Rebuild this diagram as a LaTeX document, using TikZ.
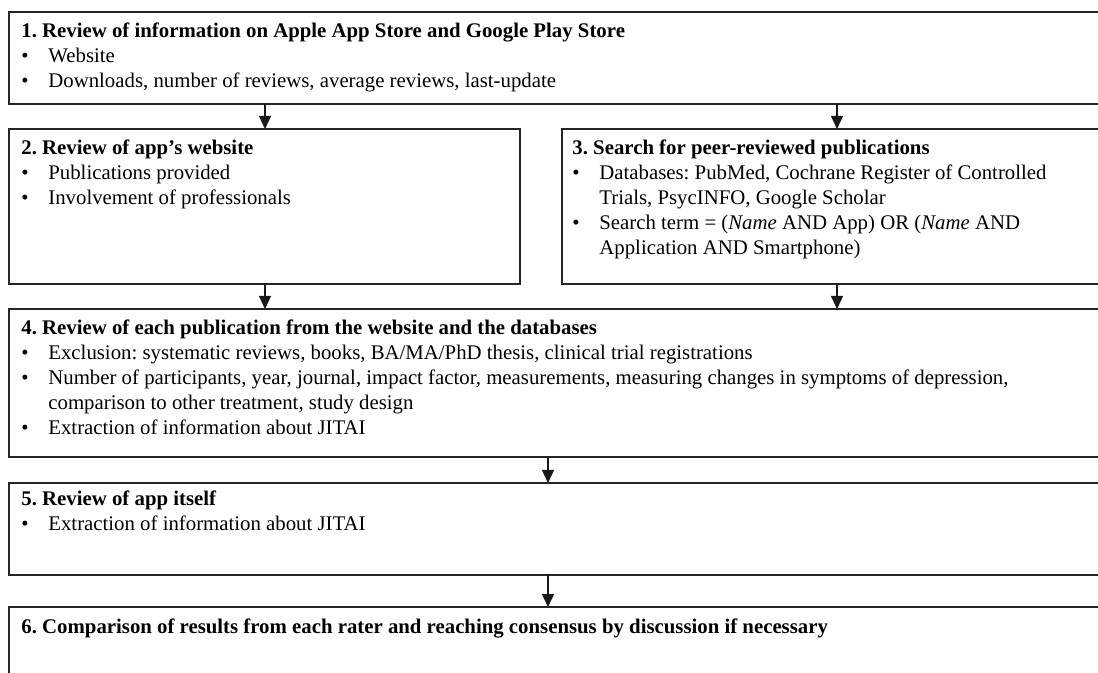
\documentclass[tikz,border=0pt]{standalone}
\usepackage{fontspec}
\setmainfont{Liberation Serif}
\usetikzlibrary{calc,arrows.meta}

% one bulleted line, and a wrapped continuation line
\newcommand{\bitem}[1]{\par\noindent\hbox to 13.5pt{\textbullet\hfil}#1}
\newcommand{\bcont}[1]{\par\noindent\hspace*{13.5pt}#1}
\newcommand{\boxtext}[2]{\parbox[t]{#1}{\fontsize{10.4pt}{12.5pt}\selectfont
  \frenchspacing\setlength{\parindent}{0pt}\setlength{\parskip}{0pt}#2}}

\begin{document}
\begin{tikzpicture}[x=0.5pt,y=-0.5pt,
  stagebox/.style={draw=black!85,line width=0.7pt,rectangle,inner sep=0pt,
    outer sep=0pt,anchor=north west},
  txt/.style={inner sep=0pt,anchor=base west,text=black},
  arr/.style={draw=black!90,line width=0.6pt,-{Triangle[width=6pt,length=6.5pt]}}]

\clip (0,0) rectangle (1098,673);
\fill[white] (0,0) rectangle (1098,673);

% stage frames
\node[stagebox,minimum width=555.5pt,minimum height=46pt] (b1) at (9,12) {};
\node[stagebox,minimum width=255.5pt,minimum height=77.5pt] (b2) at (9,129) {};
\node[stagebox,minimum width=279pt,minimum height=77.5pt] (b3) at (562,129) {};
\node[stagebox,minimum width=555.5pt,minimum height=74pt] (b4) at (9,309) {};
\node[stagebox,minimum width=555.5pt,minimum height=46pt] (b5) at (9,483) {};
\node[stagebox,minimum width=555.5pt,minimum height=46.5pt] (b6) at (9,607) {};

% stage texts
\node[txt] (t1) at ($(b1.north west)+(12,26)$) {\boxtext{540pt}{%
  \textbf{1. Review of information on Apple App Store and Google Play Store}
  \bitem{Website}
  \bitem{Downloads, number of reviews, average reviews, last-update}}};

\node[txt] (t2) at ($(b2.north west)+(12,26)$) {\boxtext{240pt}{%
  \textbf{2. Review of app’s website}
  \bitem{Publications provided}
  \bitem{Involvement of professionals}}};

\node[txt] (t3) at ($(b3.north west)+(10,26)$) {\boxtext{265pt}{%
  \textbf{3. Search for peer-reviewed publications}
  \bitem{Databases: PubMed, Cochrane Register of Controlled}
  \bcont{Trials, PsycINFO, Google Scholar}
  \bitem{Search term = (\textit{Name} AND App) OR (\textit{Name} AND}
  \bcont{Application AND Smartphone)}}};

\node[txt] (t4) at ($(b4.north west)+(12,26)$) {\boxtext{540pt}{%
  \textbf{4. Review of each publication from the website and the databases}
  \bitem{Exclusion: systematic reviews, books, BA/MA/PhD thesis, clinical trial registrations}
  \bitem{Number of participants, year, journal, impact factor, measurements, measuring changes in symptoms of depression,}
  \bcont{comparison to other treatment, study design}
  \bitem{Extraction of information about JITAI}}};

\node[txt] (t5) at ($(b5.north west)+(12,23)$) {\boxtext{540pt}{%
  \textbf{5. Review of app itself}
  \bitem{Extraction of information about JITAI}}};

\node[txt] (t6) at ($(b6.north west)+(12,26)$) {\boxtext{540pt}{%
  \textbf{6. Comparison of results from each rater and reaching consensus by discussion if necessary}}};

% connector columns
\coordinate (cl) at (265,0);
\coordinate (cr) at (837,0);
\coordinate (cm) at (548,0);

\draw[arr] (cl |- b1.south) -- (cl |- b2.north);
\draw[arr] (cr |- b1.south) -- (cr |- b3.north);
\draw[arr] (cl |- b2.south) -- (cl |- b4.north);
\draw[arr] (cr |- b3.south) -- (cr |- b4.north);
\draw[arr] (cm |- b4.south) -- (cm |- b5.north);
\draw[arr] (cm |- b5.south) -- (cm |- b6.north);
\end{tikzpicture}
\end{document}
